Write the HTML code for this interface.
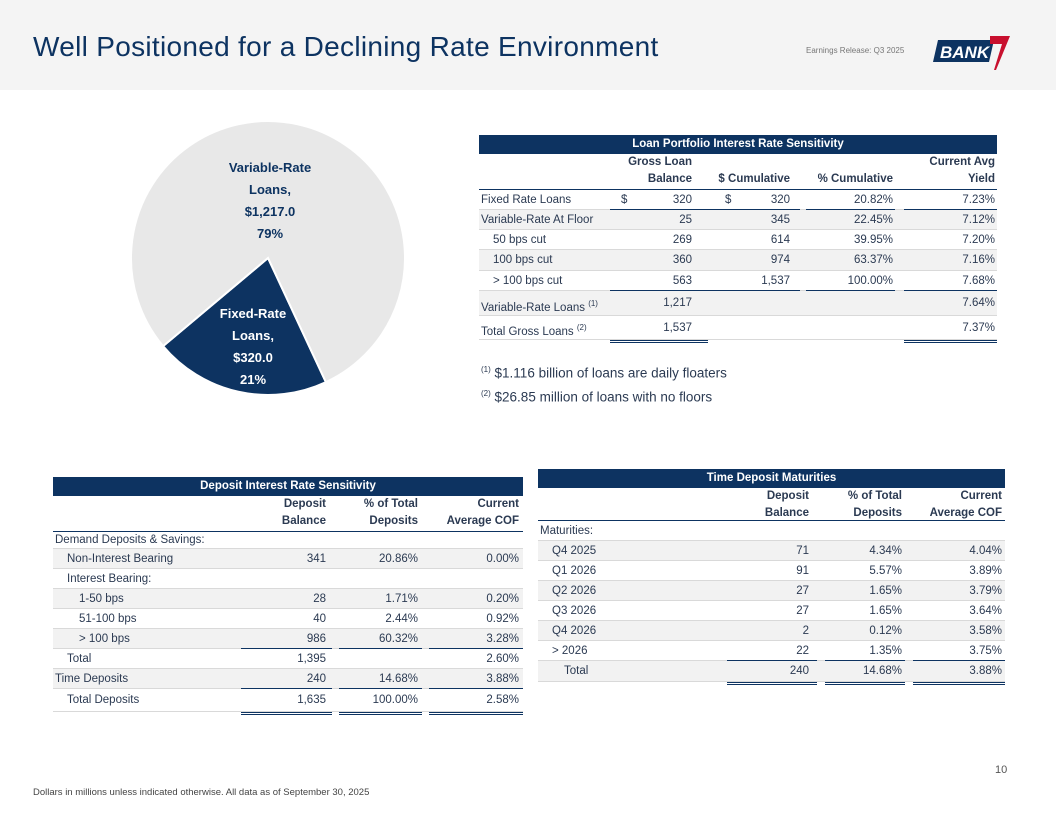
<!DOCTYPE html>
<html><head><meta charset="utf-8">
<style>
body{margin:0;width:1056px;height:816px;position:relative;background:#fff;font-family:"Liberation Sans",Arial,sans-serif;overflow:hidden}
.a{position:absolute;white-space:nowrap}
.t{font-size:11.5px;color:#2b3a52}
.hd{background:#0d3361;color:#fff;font-weight:bold;font-size:11.5px;text-align:center;line-height:19px}
.ch{font-weight:bold;color:#2b3a52;font-size:11.5px;text-align:right;line-height:17px}
.ln{position:absolute;height:1px;background:#d9d9d9}
.nv{position:absolute;background:#0d3361}
</style></head><body>
<div class="a" style="left:0;top:0;width:1056px;height:90px;background:#f4f4f4"></div>
<div class="a" style="left:33px;top:31px;font-size:28px;color:#0d3361;letter-spacing:0.3px">Well Positioned for a Declining Rate Environment</div>
<div class="a" style="left:806px;top:46px;font-size:8px;color:#777">Earnings Release: Q3 2025</div>
<div class="a" style="left:932px;top:34px;width:80px;height:36px">
<svg width="80" height="36"><polygon points="6,6 62,6 57,28 1,28" fill="#0d3361"/><polygon points="58,2 78,2 64,36 62,36 70,10 58,10" fill="#c8102e"/><text x="8" y="24" font-family="Liberation Sans" font-weight="bold" font-style="italic" font-size="17" fill="#fff">BANK</text></svg></div>

<svg class="a" id="pie" style="left:0;top:100px" width="440" height="320"></svg>

<div id="tables"></div>

<div class="a" style="left:481px;top:365px;font-size:13.5px;color:#2b3a52"><sup style="font-size:8px">(1)</sup> $1.116 billion of loans are daily floaters</div>
<div class="a" style="left:481px;top:389px;font-size:13.5px;color:#2b3a52"><sup style="font-size:8px">(2)</sup> $26.85 million of loans with no floors</div>
<div class="a" style="left:995px;top:764px;font-size:11px;color:#555">10</div>
<div class="a" style="left:33px;top:787px;font-size:9.5px;color:#444">Dollars in millions unless indicated otherwise. All data as of September 30, 2025</div>

<script>
const pieLabels=["Fixed-Rate Loans,","Variable-Rate Loans,"];
const pieValues=[320.0,1217.0];
const svg=document.getElementById('pie');
const NS='http://www.w3.org/2000/svg';
const cx=268,cy=158,r=137,start=155;
const tot=pieValues.reduce((a,b)=>a+b,0);
function pt(deg){const a=deg*Math.PI/180;return [cx+r*Math.sin(a),cy-r*Math.cos(a)];}
let ang=start;
const cols=['#0d3361','#e8e8e8'];
pieValues.forEach((v,i)=>{
  const sweep=v/tot*360;const p1=pt(ang),p2=pt(ang+sweep);
  const p=document.createElementNS(NS,'path');
  p.setAttribute('d',`M${cx},${cy} L${p1[0]},${p1[1]} A${r},${r} 0 ${sweep>180?1:0} 1 ${p2[0]},${p2[1]} Z`);
  p.setAttribute('fill',cols[i]);p.setAttribute('stroke','#fff');p.setAttribute('stroke-width','2');
  
  
  svg.appendChild(p);ang+=sweep;
});
const labelPos=[[253,218],[270,72]];
pieValues.forEach((v,i)=>{
  const words=pieLabels[i].split(' ');
  const lines=[words[0],words.slice(1).join(' '),'$'+v.toLocaleString('en-US',{minimumFractionDigits:1}),Math.round(v/tot*100)+'%'];
  lines.forEach((s,k)=>{
    const t=document.createElementNS(NS,'text');
    t.setAttribute('x',labelPos[i][0]);t.setAttribute('y',labelPos[i][1]+k*22);
    t.setAttribute('text-anchor','middle');t.setAttribute('font-family','Liberation Sans, sans-serif');
    t.setAttribute('font-weight','bold');t.setAttribute('font-size','13');
    t.setAttribute('fill',i==0?'#fff':'#0d3361');
    
    
    t.textContent=s;svg.appendChild(t);
  });
});

const host=document.getElementById('tables');
function el(cls,style,txt,name){const d=document.createElement('div');d.className=cls;d.style.cssText=style;if(txt!==undefined)d.innerHTML=txt;


host.appendChild(d);return d;}

function table(o){
  el('a hd',`left:${o.x}px;top:${o.y}px;width:${o.w}px;height:19px`,o.title,o.name+'-title');
  o.heads.forEach((h,i)=>{el('a ch',`left:${o.colR[i]-150}px;top:${o.y+19}px;width:150px;`,h.join('<br>'),'column-header');});
  const hy=o.y+19+o.hh;
  el('nv',`left:${o.x}px;top:${hy-1}px;width:${o.w}px;height:1px`,'','header-rule');
  let y=hy;
  o.rows.forEach((rw,ri)=>{
    const h=o.rh[ri]||20;
    if(ri%2==1) el('a',`left:${o.x}px;top:${y}px;width:${o.w}px;height:${h}px;background:#f2f2f2`,'','row-shade');
    el('ln',`left:${o.x}px;top:${y+h-1}px;width:${o.w}px`,'','row-rule');
    el('a t',`left:${o.x+2+rw[0]*12}px;top:${y}px;line-height:${h}px`,rw[1],'row-label');
    rw.slice(2).forEach((c,ci)=>{ if(c!=='') el('a t',`left:${o.colR[ci]-120}px;top:${y}px;width:120px;text-align:right;line-height:${h}px`,c,'cell');});
    (o.dollar&&o.dollar[ri]||[]).forEach(dx=>el('a t',`left:${dx}px;top:${y}px;line-height:${h}px`,'$','dollar-sign'));
    (o.under[ri]||[]).forEach(ci=>{const s=o.seg[ci];el('nv',`left:${s[0]}px;top:${y+h-1}px;width:${s[1]-s[0]}px;height:1px`,'','subtotal-rule');});
    (o.dbl[ri]||[]).forEach(ci=>{const s=o.seg[ci];el('nv',`left:${s[0]}px;top:${y+h}px;width:${s[1]-s[0]}px;height:1px`,'','double-rule');el('nv',`left:${s[0]}px;top:${y+h+2}px;width:${s[1]-s[0]}px;height:1px`,'','double-rule');});
    y+=h;
  });
}

const loanRows=[[0,'Fixed Rate Loans','320','320','20.82%','7.23%'],[0,'Variable-Rate At Floor','25','345','22.45%','7.12%'],[1,'50 bps cut','269','614','39.95%','7.20%'],[1,'100 bps cut','360','974','63.37%','7.16%'],[1,'&gt; 100 bps cut','563','1,537','100.00%','7.68%'],[0,'Variable-Rate Loans <sup style="font-size:8px">(1)</sup>','1,217','','','7.64%'],[0,'Total Gross Loans <sup style="font-size:8px">(2)</sup>','1,537','','','7.37%']];
table({name:'loan-table',x:479,y:135,w:518,title:'Loan Portfolio Interest Rate Sensitivity',hh:36,
 heads:[['Gross Loan','Balance'],['','$ Cumulative'],['','% Cumulative'],['Current Avg','Yield']],
 colR:[692,790,893,995],seg:[[610,708],[707,800],[806,895],[904,997]],
 rows:loanRows,rh:[20,20,20,21,20,25,24],dollar:[[621,725]],
 under:{0:[0,1,2,3],4:[0,1,2,3]},dbl:{6:[0,3]}});

const depRows=[[0,'Demand Deposits &amp; Savings:','','',''],[1,'Non-Interest Bearing','341','20.86%','0.00%'],[1,'Interest Bearing:','','',''],[2,'1-50 bps','28','1.71%','0.20%'],[2,'51-100 bps','40','2.44%','0.92%'],[2,'&gt; 100 bps','986','60.32%','3.28%'],[1,'Total','1,395','','2.60%'],[0,'Time Deposits','240','14.68%','3.88%'],[1,'Total Deposits','1,635','100.00%','2.58%']];
table({name:'deposit-table',x:53,y:477,w:470,title:'Deposit Interest Rate Sensitivity',hh:36,
 heads:[['Deposit','Balance'],['% of Total','Deposits'],['Current','Average COF']],
 colR:[326,418,519],seg:[[241,332],[339,422],[429,523]],
 rows:depRows,rh:[17,20,20,20,20,20,20,20,23],
 under:{5:[0,1,2],7:[0,1,2]},dbl:{8:[0,1,2]}});

const tdRows=[[0,'Maturities:','','',''],[1,'Q4 2025','71','4.34%','4.04%'],[1,'Q1 2026','91','5.57%','3.89%'],[1,'Q2 2026','27','1.65%','3.79%'],[1,'Q3 2026','27','1.65%','3.64%'],[1,'Q4 2026','2','0.12%','3.58%'],[1,'&gt; 2026','22','1.35%','3.75%'],[2,'Total','240','14.68%','3.88%']];
table({name:'time-deposit-table',x:538,y:469,w:467,title:'Time Deposit Maturities',hh:33,
 heads:[['Deposit','Balance'],['% of Total','Deposits'],['Current','Average COF']],
 colR:[809,902,1002],seg:[[727,817],[825,905],[913,1005]],
 rows:tdRows,rh:[20,20,20,20,20,20,20,21],
 under:{6:[0,1,2]},dbl:{7:[0,1,2]}});
</script>
</body></html>
